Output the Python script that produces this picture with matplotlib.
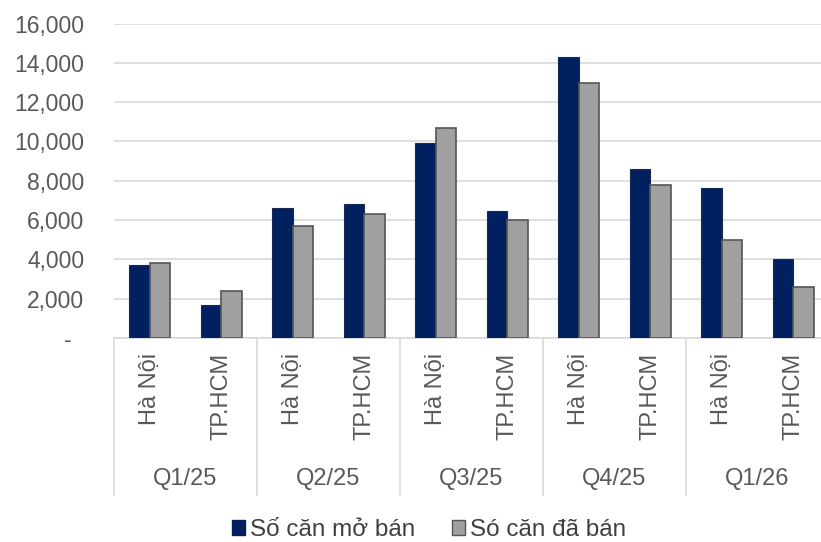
import numpy as np
import matplotlib
matplotlib.use("Agg")
import matplotlib.pyplot as plt
from matplotlib.patches import Patch
from matplotlib.ticker import FuncFormatter

plt.rcParams['font.family'] = ['Liberation Sans', 'DejaVu Sans']

quarters = ['Q1/25', 'Q2/25', 'Q3/25', 'Q4/25', 'Q1/26']
cities = ['Hà Nội', 'TP.HCM']
so_can_mo_ban = [3700, 1700, 6600, 6800, 9900, 6450, 14300, 8600, 7650, 4000]
so_can_da_ban = [3800, 2400, 5700, 6300, 10700, 6000, 12950, 7800, 5000, 2600]
series_names = ['Số căn mở bán', 'Só căn đã bán']

blue = '#002060'
gray = '#A0A0A0'
txt = '#595959'
line_c = '#D9D9D9'

W, H = 821, 542
fig = plt.figure(figsize=(W / 100, H / 100), dpi=100)
x0, x1, y0, y1 = 114, 829, 338, 23.5
ax = fig.add_axes([x0 / W, 1 - y0 / H, (x1 - x0) / W, (y0 - y1) / H])

n = len(so_can_mo_ban)
pos = np.arange(n) + 0.5
bw = 0.29
ax.bar(pos - bw, so_can_mo_ban, width=bw, align='edge', color=blue,
       edgecolor='#1a2a55', linewidth=0.8, zorder=3)
ax.bar(pos, so_can_da_ban, width=bw, align='edge', color=gray,
       edgecolor='#555555', linewidth=1.2, zorder=3)

ax.set_xlim(0, n)
ax.set_ylim(0, 16000)
ax.set_yticks(np.arange(0, 16001, 2000))
ax.yaxis.set_major_formatter(FuncFormatter(lambda v, p: '-  ' if v == 0 else f'{int(v):,}'))
ax.tick_params(axis='y', length=0, pad=21.5, labelsize=16.5, labelcolor=txt)
ax.set_xticks([])
ax.grid(axis='y', color=line_c, linewidth=1.2, zorder=0)
for s in ['top', 'right', 'left']:
    ax.spines[s].set_visible(False)
ax.spines['bottom'].set_color(line_c)
ax.spines['bottom'].set_linewidth(1.2)

trans = ax.get_xaxis_transform()
ax_h = y0 - y1
sep_bottom = -(495 - y0) / ax_h
for g in range(len(quarters) + 1):
    ax.plot([2 * g, 2 * g], [0, sep_bottom], transform=trans, color=line_c,
            linewidth=1.2, clip_on=False)
for i in range(n):
    ax.text(pos[i], -(353 - y0) / ax_h, cities[i % 2], transform=trans, rotation=90,
            ha='center', va='top', fontsize=17, color=txt)
for g, q in enumerate(quarters):
    ax.text(2 * g + 1, -(479 - y0) / ax_h, q, transform=trans, ha='center',
            va='center', fontsize=17, color=txt)

handles = [Patch(facecolor=blue, edgecolor=blue), Patch(facecolor=gray, edgecolor='#555555')]
fig.legend(handles, series_names, loc='center', bbox_to_anchor=(429 / W, 1 - 530 / H),
           ncol=2, frameon=False, fontsize=17.5, handlelength=0.55, handleheight=0.55,
           handletextpad=0.2, columnspacing=1.5, labelcolor='#404040',
           borderpad=0, borderaxespad=0)

fig.savefig('out.png', dpi=100)
